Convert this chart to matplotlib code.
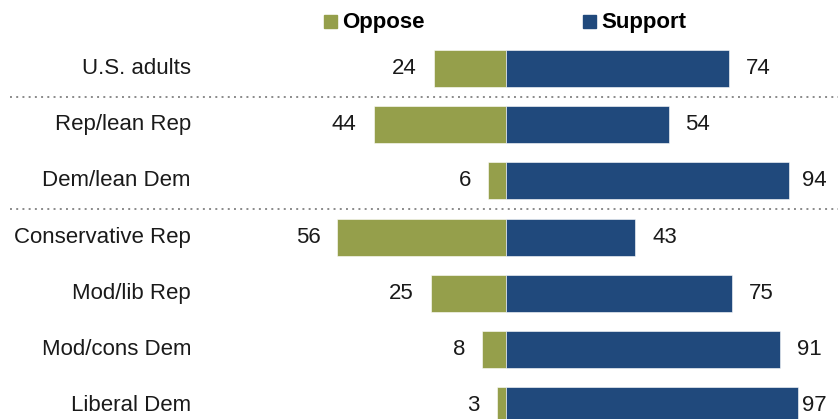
import matplotlib
matplotlib.use("Agg")
import matplotlib.pyplot as plt
from matplotlib import font_manager as fm

categories = ["U.S. adults", "Rep/lean Rep", "Dem/lean Dem", "Conservative Rep",
              "Mod/lib Rep", "Mod/cons Dem", "Liberal Dem"]
oppose = [24, 44, 6, 56, 25, 8, 3]
support = [74, 54, 94, 43, 75, 91, 97]
legend_labels = ["Oppose", "Support"]
separators_after = [0, 2]

c_opp = "#959F4B"
c_sup = "#20497C"

names = {f.name for f in fm.fontManager.ttflist}
base_font = "Liberation Sans" if "Liberation Sans" in names else "DejaVu Sans"
leg_font = "Liberation Sans Narrow" if "Liberation Sans Narrow" in names else base_font

W, H = 838, 419
fig = plt.figure(figsize=(W / 100, H / 100), dpi=100)
ax = fig.add_axes([0, 0, 1, 1])
ppu = 3.01
cx = 506
ax.set_xlim(-cx / ppu, (W - cx) / ppu)
row0, step = 68.5, 56.2
ax.set_ylim((H - row0) / step, -row0 / step)
ax.axis("off")

y = list(range(len(categories)))
ax.barh(y, [-v for v in oppose], height=0.66, color=c_opp, edgecolor="white", linewidth=0.4)
ax.barh(y, support, height=0.66, color=c_sup, edgecolor="white", linewidth=0.4)

xmax = (W - cx) / ppu
fs = 16
off = 17 / ppu
for i, (o, s) in enumerate(zip(oppose, support)):
    ax.text(-o - off, i, str(o), ha="right", va="center", fontsize=fs, family=base_font, color="#1a1a1a")
    xs = min(s + off, (802 - cx) / ppu)
    ax.text(xs, i, str(s), ha="left", va="center", fontsize=fs, family=base_font, color="#1a1a1a")
    ax.text((191 - cx) / ppu, i, categories[i], ha="right", va="center", fontsize=fs,
            family=base_font, color="#1a1a1a")

for s in separators_after:
    ax.plot([(10 - cx) / ppu, xmax], [s + 0.5, s + 0.5], ls=(0, (1, 2.2)), color="#8a8a8a", lw=1.4)

# legend
for lab, col, sx in zip(legend_labels, [c_opp, c_sup], [324, 583]):
    ax.add_patch(plt.Rectangle(((sx - cx) / ppu, (15 - row0) / step), 13 / ppu, 13 / step,
                               color=col, clip_on=False))
    ax.text((sx + 18 - cx) / ppu, (28 - row0) / step, lab, ha="left", va="baseline", fontsize=16,
            fontweight="bold", family=leg_font, color="black")

fig.savefig("out.png", dpi=100)
